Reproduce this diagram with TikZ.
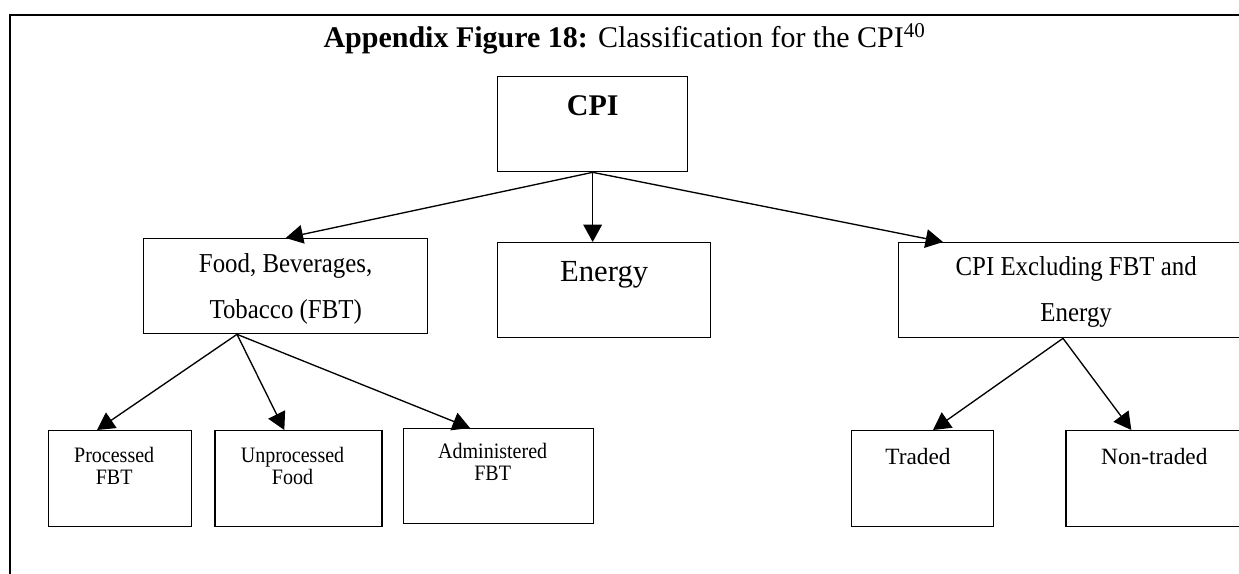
\documentclass[tikz,border=0pt]{standalone}
\usepackage{fontspec}
\setmainfont{Liberation Serif}
\newfontfamily\narrowfont[FakeStretch=0.91]{Liberation Serif}
\usetikzlibrary{arrows.meta,positioning}
\tikzset{
  box/.style={draw, line width=1pt, rectangle, anchor=north west, inner sep=0pt},
  bigbox/.style={box, font=\fontsize{23}{27}\selectfont, text height=29.25pt, text depth=42pt},
  midbox/.style={box, font=\narrowfont\fontsize{20.5}{34.5}\selectfont},
  smallbox/.style={box, font=\narrowfont\fontsize{16.5}{16.5}\selectfont, text height=24pt, text depth=48pt},
  link/.style={-{Triangle[length=13pt,width=14pt]}, line width=1pt},
  frame/.style={line width=1.5pt},
}
\newcommand{\twolines}[2]{\begin{tabular}[t]{@{}c@{}}#1\\#2\end{tabular}}

\begin{document}
\begin{tikzpicture}[x=0.75pt, y=-0.75pt]
  \path[use as bounding box] (0,0) rectangle (1239,574);
  \clip (0,0) rectangle (1239,574);
  % frame and title
  \draw[frame] (1260,15) -| (10,590);
  \node[font=\fontsize{22.5}{27}\selectfont, anchor=base] (title) at (624.5,48)
    {\textbf{Appendix Figure 18:} Classification for the CPI\textsuperscript{40}};
  % first level
  \node[bigbox, font=\bfseries\fontsize{22.5}{27}\selectfont, minimum width=142.5pt] (cpi) at (497,76) {CPI};
  \node[midbox, minimum width=213pt, text height=25.5pt, text depth=45.75pt] (fbt) at (143,238)
    {\twolines{Food, Beverages,}{Tobacco (FBT)}};
  \node[bigbox, minimum width=159.75pt] (energy) at (497,242) {Energy};
  \node[midbox, minimum width=266.25pt, text height=24.75pt, text depth=46.5pt] (excl) at (898,242)
    {\twolines{CPI Excluding FBT and}{Energy}};
  % second level
  \node[smallbox, minimum width=107.25pt] (proc) at (48,430) {\twolines{Processed}{FBT}\hspace*{9pt}};
  \node[smallbox, minimum width=125.25pt] (unproc) [right=16.5pt of proc] {\twolines{Unprocessed}{Food}\hspace*{9pt}};
  \node[smallbox, minimum width=142.5pt, text height=22.5pt, text depth=48.75pt] (admin) at (403,428)
    {\twolines{Administered}{FBT}\hspace*{9pt}};
  \node[smallbox, font=\fontsize{17.5}{21}\selectfont, minimum width=106.5pt, text height=25.5pt, text depth=46.5pt]
    (traded) at (851,430) {Traded\hspace*{7pt}};
  \node[smallbox, font=\fontsize{17.5}{21}\selectfont, minimum width=139.5pt, text height=25.5pt, text depth=46.5pt]
    (nontraded) [right=53.25pt of traded] {Non-traded\hspace*{7pt}};
  % arrows
  \draw[link] (cpi.south) -- (fbt.north);
  \draw[link] (cpi.south) -- (cpi.south |- energy.north);
  \draw[link] (cpi.south) -- ([xshift=33.75pt]excl.north west);
  \draw[link] ([xshift=70.5pt]fbt.south west) -- ([xshift=36.75pt]proc.north west);
  \draw[link] ([xshift=70.5pt]fbt.south west) -- ([xshift=52.5pt]unproc.north west);
  \draw[link] ([xshift=70.5pt]fbt.south west) -- ([xshift=50.25pt]admin.north west);
  \draw[link] ([xshift=123.75pt]excl.south west) -- ([xshift=61.5pt]traded.north west);
  \draw[link] ([xshift=123.75pt]excl.south west) -- ([xshift=49.5pt]nontraded.north west);
\end{tikzpicture}
\end{document}
